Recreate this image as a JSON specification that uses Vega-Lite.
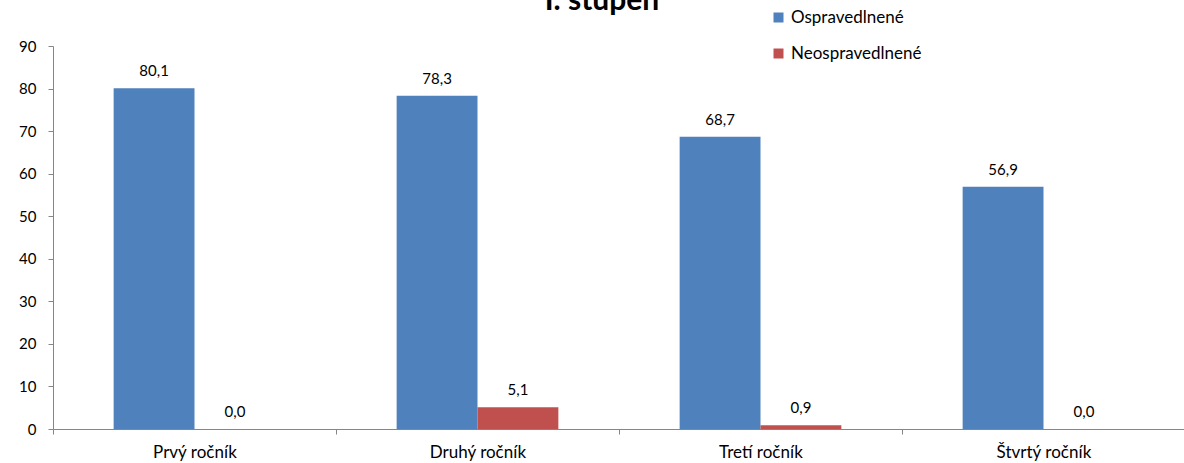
{
  "$schema": "https://vega.github.io/schema/vega-lite/v6.json",
  "width": 1132,
  "height": 383,
  "autosize": {"type": "none"},
  "padding": {"left": 53, "top": 46, "right": 0, "bottom": 34},
  "background": "white",
  "config": {
    "font": "Lato",
    "view": {"stroke": null},
    "locale": {"number": {"decimal": ",", "thousands": " ", "grouping": [3], "currency": ["", " €"]}}
  },
  "title": {
    "text": "I. stupeň",
    "fontSize": 30,
    "fontWeight": "bold",
    "color": "#000000",
    "frame": "group",
    "anchor": "middle",
    "baseline": "alphabetic",
    "offset": -31,
    "dx": -17
  },
  "data": {
    "values": [
      {"rocnik": "Prvý ročník", "typ": "Ospravedlnené", "hodnota": 80.1},
      {"rocnik": "Prvý ročník", "typ": "Neospravedlnené", "hodnota": 0.0},
      {"rocnik": "Druhý ročník", "typ": "Ospravedlnené", "hodnota": 78.3},
      {"rocnik": "Druhý ročník", "typ": "Neospravedlnené", "hodnota": 5.1},
      {"rocnik": "Tretí ročník", "typ": "Ospravedlnené", "hodnota": 68.7},
      {"rocnik": "Tretí ročník", "typ": "Neospravedlnené", "hodnota": 0.9},
      {"rocnik": "Štvrtý ročník", "typ": "Ospravedlnené", "hodnota": 56.9},
      {"rocnik": "Štvrtý ročník", "typ": "Neospravedlnené", "hodnota": 0.0}
    ]
  },
  "encoding": {
    "x": {
      "field": "rocnik",
      "type": "nominal",
      "sort": ["Prvý ročník", "Druhý ročník", "Tretí ročník", "Štvrtý ročník"],
      "scale": {"paddingInner": 0, "paddingOuter": 0},
      "axis": {
        "title": null,
        "labelAngle": 0,
        "labelFontSize": 17,
        "labelColor": "#000000",
        "labelPadding": 10,
        "domainColor": "#868686",
        "tickColor": "#868686",
        "tickSize": 5,
        "tickBand": "extent",
        "grid": false
      }
    },
    "xOffset": {
      "field": "typ",
      "type": "nominal",
      "sort": ["Ospravedlnené", "Neospravedlnené"],
      "scale": {"paddingInner": 0, "paddingOuter": 0.75}
    },
    "y": {
      "field": "hodnota",
      "type": "quantitative",
      "scale": {"domain": [0, 90], "nice": false},
      "axis": {
        "title": null,
        "values": [0, 10, 20, 30, 40, 50, 60, 70, 80, 90],
        "labelFontSize": 15,
        "labelColor": "#000000",
        "labelPadding": 12,
        "domainColor": "#868686",
        "tickColor": "#868686",
        "tickSize": 5,
        "grid": false
      }
    }
  },
  "layer": [
    {
      "mark": {"type": "bar"},
      "encoding": {
        "color": {
          "field": "typ",
          "type": "nominal",
          "sort": ["Ospravedlnené", "Neospravedlnené"],
          "scale": {"domain": ["Ospravedlnené", "Neospravedlnené"], "range": ["#4F81BD", "#C0504D"]},
          "legend": {
            "title": null,
            "orient": "none",
            "legendX": 717,
            "legendY": -37,
            "padding": 0,
            "symbolType": "square",
            "symbolSize": 100,
            "symbolStrokeWidth": 0,
            "labelFontSize": 17,
            "labelColor": "#000000",
            "labelOffset": 4,
            "rowPadding": 18
          }
        }
      }
    },
    {
      "mark": {"type": "text", "baseline": "bottom", "dy": -9, "fontSize": 15, "color": "#000000"},
      "encoding": {
        "text": {"field": "hodnota", "type": "quantitative", "format": ".1f"}
      }
    }
  ]
}
